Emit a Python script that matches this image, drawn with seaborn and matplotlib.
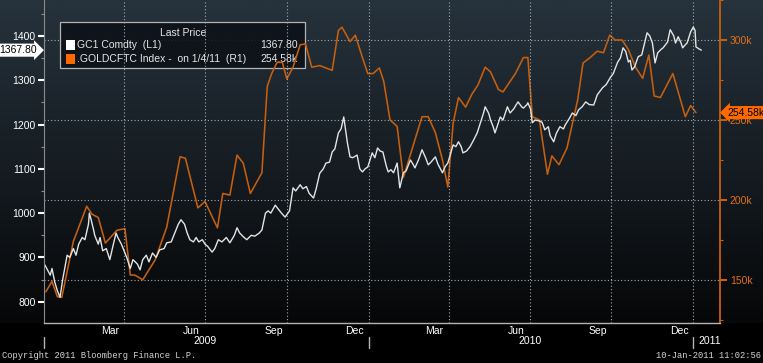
import matplotlib
matplotlib.use('Agg')
import matplotlib.pyplot as plt
import matplotlib.dates as mdates
import numpy as np
import pandas as pd
import seaborn as sns
from matplotlib.colors import LinearSegmentedColormap
from matplotlib.patches import Rectangle
from matplotlib.ticker import MultipleLocator, FuncFormatter, NullFormatter
from matplotlib.transforms import blended_transform_factory

# data: days counted from 2009-01-01
start = pd.Timestamp('2009-01-01')

gold_day = [1, 7, 9, 12, 15, 18, 21, 26, 29, 33,
            36, 39, 43, 46, 50, 51, 53, 56, 57, 61,
            63, 66, 70, 74, 78, 81, 83, 87, 90, 93,
            97, 100, 105, 108, 111, 115, 118, 122, 126, 130,
            135, 138, 143, 147, 151, 154, 158, 161, 164, 168,
            171, 174, 178, 181, 184, 189, 192, 196, 200, 205,
            209, 214, 217, 220, 225, 228, 233, 237, 242, 245,
            249, 252, 255, 260, 263, 267, 271, 276, 280, 283,
            288, 291, 295, 298, 303, 306, 310, 314, 317, 321,
            324, 327, 331, 334, 337, 341, 344, 347, 352, 355,
            358, 361, 364, 369, 372, 375, 378, 381, 385, 387,
            390, 393, 397, 400, 404, 407, 412, 415, 417, 421,
            425, 429, 432, 435, 440, 443, 448, 451, 454, 458,
            460, 463, 466, 469, 471, 475, 479, 483, 487, 490,
            494, 496, 500, 502, 505, 507, 511, 513, 516, 521,
            524, 528, 531, 533, 537, 539, 543, 544, 547, 549,
            552, 557, 560, 563, 567, 569, 573, 576, 580, 584,
            586, 591, 594, 598, 601, 605, 609, 613, 618, 620,
            622, 625, 628, 632, 637, 640, 645, 648, 651, 654,
            657, 659, 661, 664, 668, 672, 676, 678, 681, 684,
            687, 690, 694, 696, 701, 704, 708, 710, 713, 716,
            718, 721, 723, 727, 730, 732, 733, 737, 739]
gold_price = [883, 860, 875, 845, 825, 810, 850, 905, 900, 920,
              905, 930, 945, 940, 975, 1000, 985, 960, 950, 930,
              945, 915, 920, 895, 930, 955, 945, 930, 915, 900,
              875, 895, 885, 872, 895, 905, 890, 910, 900, 917,
              920, 933, 935, 955, 975, 985, 975, 955, 940, 935,
              945, 935, 940, 930, 925, 912, 920, 940, 935, 945,
              933, 950, 967, 955, 945, 940, 950, 948, 955, 962,
              1000, 1005, 1000, 1018, 1010, 1000, 991, 1005, 1057, 1050,
              1064, 1055, 1060, 1045, 1034, 1055, 1090, 1100, 1113, 1115,
              1138, 1145, 1181, 1190, 1217, 1160, 1127, 1125, 1131, 1100,
              1093, 1100, 1104, 1136, 1125, 1147, 1140, 1138, 1105, 1093,
              1098, 1091, 1113, 1057, 1091, 1095, 1120, 1110, 1102, 1120,
              1143, 1125, 1109, 1115, 1127, 1110, 1091, 1105, 1113, 1140,
              1154, 1150, 1161, 1150, 1136, 1140, 1150, 1165, 1181, 1200,
              1225, 1240, 1225, 1210, 1195, 1181, 1205, 1217, 1210, 1240,
              1226, 1235, 1245, 1251, 1240, 1237, 1245, 1249, 1235, 1204,
              1210, 1208, 1205, 1188, 1195, 1175, 1161, 1180, 1195, 1190,
              1199, 1215, 1226, 1220, 1233, 1240, 1251, 1245, 1244, 1255,
              1267, 1275, 1283, 1290, 1307, 1315, 1341, 1350, 1373, 1365,
              1341, 1345, 1323, 1330, 1353, 1357, 1390, 1407, 1400, 1384,
              1339, 1362, 1370, 1373, 1386, 1414, 1400, 1384, 1398, 1385,
              1373, 1380, 1384, 1409, 1420, 1412, 1375, 1370, 1367.8]

cftc_day = [2, 9, 15, 20, 33, 48, 54, 61, 69, 82,
            91, 97, 102, 111, 125, 138, 153, 159, 173, 181,
            195, 201, 209, 217, 224, 232, 245, 251, 256, 262,
            268, 273, 280, 288, 294, 301, 310, 324, 331, 335,
            344, 350, 358, 364, 370, 377, 382, 389, 397, 404,
            409, 417, 425, 432, 440, 448, 454, 460, 466, 474,
            481, 488, 496, 502, 511, 516, 530, 539, 544, 549,
            557, 566, 571, 579, 588, 600, 606, 614, 622, 629,
            636, 642, 650, 657, 665, 673, 680, 686, 693, 707,
            713, 721, 727, 733]
cftc_k = [142.5, 149, 139.5, 139, 174, 196, 191, 189, 173, 181,
          182, 153, 153, 150, 162.5, 183, 227, 226, 195, 199,
          182.5, 204, 203, 228, 223, 204, 217, 271, 279, 286,
          286, 275.6, 283, 297, 297.5, 283, 284, 281, 306, 308,
          299, 303, 289, 279, 279, 282.5, 274, 250, 246, 214,
          223, 237.5, 252, 252, 242, 225, 208, 248, 264, 258,
          266, 272, 283, 280, 269, 267.5, 279, 289, 289, 252,
          250, 216, 227.5, 222, 232.5, 262.5, 285.6, 289, 293, 292,
          303, 300, 300, 294, 283, 276, 290.6, 265, 264, 279,
          267.5, 252, 259, 254.58]

gold_name = 'GC1 Comdty  (L1)'
cftc_name = '.GOLDCFTC Index -  on 1/4/11  (R1)'
gold_last = '1367.80'
cftc_last = '254.58k'

gold = pd.DataFrame({'date': start + pd.to_timedelta(gold_day, unit='D'), 'price': gold_price})
cftc = pd.DataFrame({'date': start + pd.to_timedelta(cftc_day, unit='D'), 'net': cftc_k})

ORANGE = '#c65f0e'
ORANGE_TXT = '#e0701c'
GRID = '#a8a8a8'

sns.set_style('dark')
plt.rcParams['font.family'] = ['Liberation Sans', 'DejaVu Sans']

W, H = 763, 363
fig = plt.figure(figsize=(W / 100, H / 100), dpi=100, facecolor='black')


def fx(x):
    return x / W


def fy(y):
    return 1 - y / H


# gradient background behind the plot area
bg = fig.add_axes([0, 0, 1, 1])
bg.set_zorder(-2)
grad = LinearSegmentedColormap.from_list('bbg', ['#26323c', '#161d23', '#060708'])
bg.imshow(np.linspace(0, 1, 200).reshape(-1, 1), cmap=grad, aspect='auto',
          extent=[0, 1, fy(323), 1])
bg.set_xlim(0, 1)
bg.set_ylim(0, 1)
bg.set_axis_off()

ax = fig.add_axes([fx(44), fy(323), fx(720) - fx(44), fy(0) - fy(323)])
ax2 = ax.twinx()
sns.lineplot(data=cftc, x='date', y='net', ax=ax2, color=ORANGE, linewidth=1.15, zorder=3)
sns.lineplot(data=gold, x='date', y='price', ax=ax, color='#e4e4e4', linewidth=1.0)
ax.set_zorder(ax2.get_zorder() + 1)
ax.patch.set_visible(False)
ax2.patch.set_visible(False)
for a in (ax, ax2):
    a.set_xlabel('')
    a.set_ylabel('')

# x axis
ax.set_xlim(pd.Timestamp('2009-01-01'), pd.Timestamp('2011-01-31'))
ax.xaxis.set_major_locator(mdates.MonthLocator())
ax.xaxis.set_major_formatter(NullFormatter())
ax.xaxis.set_minor_locator(mdates.MonthLocator(bymonth=[3, 6, 9, 12], bymonthday=16))
ax.xaxis.set_minor_formatter(mdates.DateFormatter('%b'))
ax.tick_params(axis='x', which='major', length=3, width=0.8, color='#a0a0a0', direction='out')
ax.tick_params(axis='x', which='minor', length=0, pad=2, labelsize=7.5, labelcolor='white')
for d in pd.date_range('2009-01-01', '2011-01-01', freq='QS'):
    ax.axvline(d, color=GRID, lw=0.8, ls=(0, (1, 2)), zorder=0)

# left axis
ax.set_ylim(752, 1481)
ax.yaxis.set_major_locator(MultipleLocator(100))
ax.yaxis.set_minor_locator(MultipleLocator(50))
ax.tick_params(axis='y', which='major', length=4, width=1.5, color='white',
               labelsize=7.5, labelcolor='white', pad=2, direction='out')
ax.tick_params(axis='y', which='minor', length=2, width=0.8, color='#909090', direction='out')

# right axis
ax2.set_ylim(123, 325)
ax2.yaxis.set_major_locator(MultipleLocator(50))
ax2.yaxis.set_minor_locator(MultipleLocator(25))
ax2.yaxis.set_major_formatter(FuncFormatter(lambda v, p: f'{v:.0f}k'))
ax2.tick_params(axis='y', which='major', length=5, width=1.5, color=ORANGE,
                labelcolor=ORANGE_TXT, labelsize=7.5, pad=2, direction='out')
ax2.tick_params(axis='y', which='minor', length=2, width=0.8, color=ORANGE, direction='out')
ax2.grid(axis='y', which='major', color=GRID, lw=0.8, ls=(0, (1, 2)))
ax2.grid(axis='x', visible=False)

for s in ('top', 'right'):
    ax.spines[s].set_visible(False)
ax.spines['left'].set_color('#8a8a8a')
ax.spines['bottom'].set_color('#b4b4b4')
ax.spines['left'].set_linewidth(0.8)
ax.spines['bottom'].set_linewidth(1.0)
for s in ('top', 'left', 'bottom'):
    ax2.spines[s].set_visible(False)
ax2.spines['right'].set_color(ORANGE)
ax2.spines['right'].set_linewidth(1.3)

# year labels and separators below the axis
trans = blended_transform_factory(ax.transData, ax.transAxes)
for yr in ('2009', '2010'):
    ax.text(mdates.date2num(pd.Timestamp(f'{yr}-07-01')), -0.056, yr, transform=trans,
            ha='center', va='center', color='white', fontsize=7.5, clip_on=False)
for yr in ('2009', '2010', '2011'):
    xd = mdates.date2num(pd.Timestamp(f'{yr}-01-01'))
    ax.plot([xd, xd], [-0.043, -0.078], transform=trans, color='#b4b4b4', lw=1, clip_on=False)
ax.annotate('2011', xy=(mdates.date2num(pd.Timestamp('2011-01-01')), -0.056), xycoords=trans,
            xytext=(4, 0), textcoords='offset points', ha='left', va='center',
            color='white', fontsize=7.5, annotation_clip=False)

# last value markers
ax.text(-0.0105, gold_price[-1], gold_last, transform=blended_transform_factory(ax.transAxes, ax.transData),
        ha='right', va='center', fontsize=7.5, color='black', clip_on=False, zorder=10,
        bbox=dict(boxstyle='rarrow,pad=0.15', fc='white', ec='none'))
ax2.text(1.0104, cftc_k[-1], cftc_last, transform=blended_transform_factory(ax2.transAxes, ax2.transData),
         ha='left', va='center', fontsize=7.5, color='black', clip_on=False, zorder=10,
         bbox=dict(boxstyle='larrow,pad=0.15', fc='#ff6a00', ec='none'))

# legend box, drawn under the lines
ax2.add_patch(Rectangle((fx(60), fy(68)), fx(305) - fx(60), fy(22) - fy(68), transform=fig.transFigure,
                        fc='#0d1217', ec='#c4c4c4', lw=0.9, alpha=0.9, zorder=1, clip_on=False))
ax2.text(fx(183), fy(33), 'Last Price', transform=fig.transFigure, ha='center', va='center',
         color='#e6e6e6', fontsize=7.5, zorder=1.5, clip_on=False)
for row_y, col, name, last in ((45, 'white', gold_name, gold_last),
                               (59, '#ff6a00', cftc_name, cftc_last)):
    ax2.add_patch(Rectangle((fx(66), fy(row_y + 4.5)), fx(75) - fx(66), fy(row_y - 4.5) - fy(row_y + 4.5),
                            transform=fig.transFigure, fc=col, ec='none', zorder=1.5, clip_on=False))
    ax2.text(fx(77), fy(row_y), name, transform=fig.transFigure, ha='left', va='center',
             color='#e6e6e6', fontsize=7.5, zorder=1.5, clip_on=False)
    ax2.text(fx(298), fy(row_y), last, transform=fig.transFigure, ha='right', va='center',
             color='#e6e6e6', fontsize=7.5, zorder=1.5, clip_on=False)

# footer
mono = ['Liberation Mono', 'DejaVu Sans Mono']
fig.text(fx(2), fy(356), 'Copyright 2011 Bloomberg Finance L.P.', family=mono, fontsize=6.3,
         color='#d4d4d4', ha='left', va='center')
fig.text(fx(761), fy(356), '10-Jan-2011 11:02:56', family=mono, fontsize=6.3,
         color='#d4d4d4', ha='right', va='center')

fig.savefig('out.png', dpi=100, facecolor='black')
